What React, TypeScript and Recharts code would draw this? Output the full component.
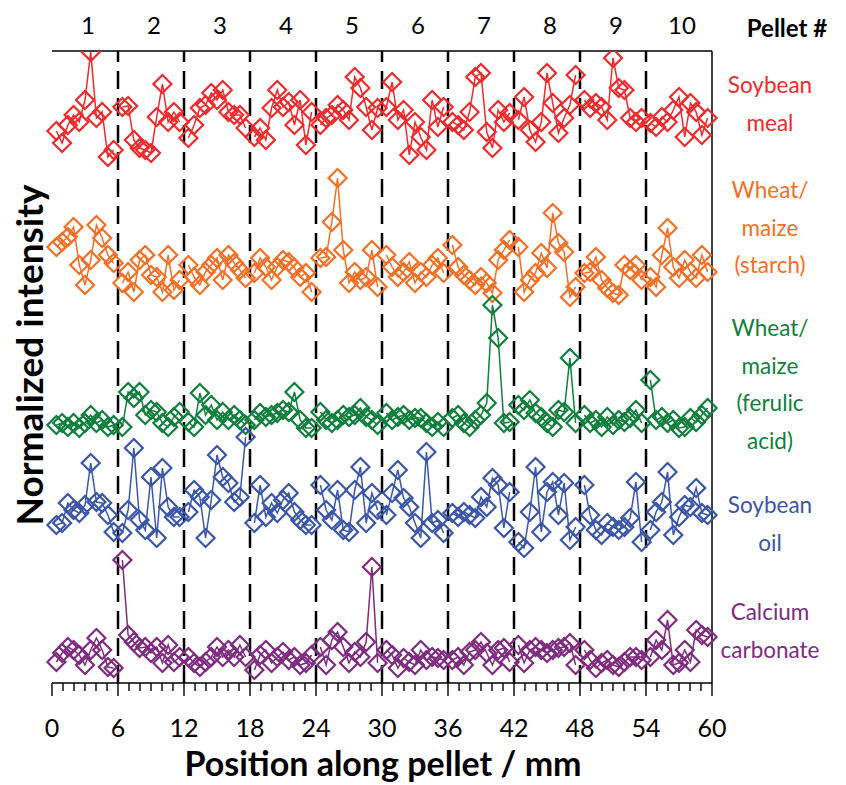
import React from "react";
import {
  LineChart,
  Line,
  XAxis,
  YAxis,
  ReferenceLine,
} from "recharts";

// Position of the pellets along the strand (mm) and where the spots sit inside each pellet
const pelletStarts = [0, 6, 12, 18, 24, 30, 36, 42, 48, 54];
const spotOffsets = [0.4, 0.92, 1.44, 1.96, 2.48, 3.0, 3.52, 4.04, 4.56, 5.08, 5.6];
const pelletCenters = [3, 9, 15, 21, 27, 33, 39, 45, 51, 57];
const pelletLabels = ["1", "2", "3", "4", "5", "6", "7", "8", "9", "10"];
const axisTicks = Array.from({ length: 61 }, (_, i) => i);

// Stacked (offset) normalized intensities, one row per pellet
const soybeanMeal = [
  [552, 540, 558, 568, 561, 583, 631, 565, 571, 526, 533],
  [576, 577, 543, 535, 533, 530, 566, 599, 561, 571, 561],
  [545, 558, 575, 578, 590, 583, 593, 571, 568, 568, 555],
  [546, 555, 543, 575, 593, 576, 581, 558, 583, 538, 571],
  [558, 565, 568, 578, 573, 563, 606, 595, 576, 553, 575],
  [576, 601, 563, 573, 528, 561, 546, 533, 583, 556, 576],
  [561, 558, 553, 571, 606, 610, 551, 535, 573, 561, 570],
  [563, 586, 553, 541, 561, 610, 580, 550, 565, 578, 608],
  [583, 575, 580, 576, 563, 625, 595, 593, 565, 561, 565],
  [560, 556, 566, 561, 573, 586, 546, 580, 571, 548, 565],
];
const starch = [
  [436, 441, 446, 456, 418, 398, 423, 458, 445, 428, 420],
  [400, 411, 391, 423, 428, 408, 406, 391, 428, 393, 403],
  [418, 406, 398, 411, 418, 425, 403, 428, 420, 413, 405],
  [410, 425, 416, 403, 416, 423, 421, 415, 406, 410, 391],
  [425, 426, 461, 505, 433, 400, 411, 403, 406, 433, 396],
  [428, 416, 406, 411, 421, 400, 411, 406, 418, 425, 410],
  [438, 416, 408, 403, 398, 406, 400, 390, 423, 433, 443],
  [436, 391, 403, 410, 430, 415, 470, 440, 431, 386, 396],
  [410, 411, 426, 403, 395, 390, 388, 418, 413, 418, 403],
  [406, 396, 428, 455, 416, 405, 423, 411, 405, 428, 411],
];
const ferulicAcid = [
  [258, 260, 256, 260, 255, 260, 268, 260, 263, 256, 258],
  [256, 291, 285, 291, 268, 273, 271, 260, 256, 266, 271],
  [261, 256, 290, 268, 278, 263, 271, 263, 268, 263, 258],
  [263, 270, 266, 268, 270, 273, 271, 291, 263, 255, 255],
  [271, 263, 260, 263, 268, 266, 268, 275, 266, 263, 258],
  [270, 263, 266, 268, 263, 265, 265, 260, 256, 261, 256],
  [265, 268, 260, 256, 263, 268, 280, 378, 345, 260, 261],
  [278, 273, 283, 270, 266, 260, 256, 273, 271, 325, 260],
  [268, 260, 263, 256, 266, 258, 263, 261, 265, 273, 260],
  [303, 263, 266, 260, 263, 255, 256, 265, 261, 268, 275],
];
const soybeanOil = [
  [158, 160, 180, 173, 170, 178, 220, 181, 180, 168, 151],
  [150, 173, 235, 163, 153, 206, 145, 215, 176, 166, 166],
  [171, 193, 186, 145, 183, 228, 206, 200, 181, 186, 246],
  [160, 198, 166, 180, 170, 183, 190, 171, 163, 158, 158],
  [198, 173, 163, 193, 153, 151, 193, 216, 160, 190, 173],
  [168, 190, 213, 185, 176, 160, 145, 231, 160, 163, 150],
  [170, 166, 171, 168, 165, 186, 176, 205, 198, 155, 191],
  [141, 135, 171, 216, 151, 191, 201, 168, 200, 143, 156],
  [198, 168, 153, 148, 160, 156, 153, 156, 165, 201, 141],
  [153, 171, 181, 211, 148, 166, 178, 176, 195, 170, 168],
];
const calciumCarbonate = [
  [21, 30, 36, 33, 28, 18, 33, 45, 33, 16, 15],
  [123, 48, 41, 35, 36, 30, 36, 20, 38, 21, 26],
  [26, 20, 16, 21, 26, 36, 26, 33, 26, 38, 26],
  [13, 28, 33, 20, 26, 31, 23, 26, 18, 20, 28],
  [36, 18, 43, 51, 36, 20, 31, 26, 41, 116, 20],
  [33, 28, 15, 25, 21, 18, 33, 23, 26, 25, 23],
  [23, 26, 18, 31, 33, 41, 30, 18, 33, 35, 21],
  [38, 20, 33, 36, 33, 30, 33, 35, 36, 40, 18],
  [33, 23, 15, 20, 23, 18, 16, 21, 26, 26, 23],
  [26, 43, 33, 63, 18, 20, 33, 21, 53, 48, 46],
];

const series = [
  { key: "meal", values: soybeanMeal, color: "#ED2A2C", label: ["Soybean", "meal"], top: 66 },
  { key: "starch", values: starch, color: "#F36F25", label: ["Wheat/", "maize", "(starch)"], top: 171 },
  { key: "ferulic", values: ferulicAcid, color: "#0F7F3C", label: ["Wheat/", "maize", "(ferulic", "acid)"], top: 309 },
  { key: "oil", values: soybeanOil, color: "#3A56A8", label: ["Soybean", "oil"], top: 486 },
  { key: "caco3", values: calciumCarbonate, color: "#7E2B80", label: ["Calcium", "carbonate"], top: 593 },
];

// one row per spot, with an empty row after each pellet so the lines break
const rows: any[] = [];
pelletStarts.forEach((start, p) => {
  spotOffsets.forEach((off, k) => {
    const row: any = { x: start + off };
    series.forEach((s) => (row[s.key] = s.values[p][k]));
    rows.push(row);
  });
  const gap: any = { x: start + 5.95 };
  series.forEach((s) => (gap[s.key] = null));
  rows.push(gap);
});

const FONT = "Lato, 'Open Sans', sans-serif";

const diamond = (color: string) => (props: any) => {
  const { cx, cy, index } = props;
  if (cx == null || cy == null || props.value == null) return <g key={index} />;
  const r = 9;
  return (
    <path
      key={index}
      d={`M${cx},${cy - r}L${cx + r},${cy}L${cx},${cy + r}L${cx - r},${cy}Z`}
      fill="none"
      stroke={color}
      strokeWidth={2.2}
    />
  );
};

const BottomTick = (props: any) => {
  const { x, y, payload } = props;
  const major = payload.value % 6 === 0;
  return (
    <g>
      <line x1={x} x2={x} y1={y} y2={y + (major ? 13 : 8)} stroke="#000000" strokeWidth={1.4} />
      {major && (
        <text x={x} y={y + 44} textAnchor="middle" dominantBaseline="central" fontSize={25} fontFamily={FONT} fill="#000">
          {payload.value}
        </text>
      )}
    </g>
  );
};

const TopTick = (props: any) => {
  const { x, y, payload } = props;
  const i = pelletCenters.indexOf(payload.value);
  return (
    <text x={x + 3} y={y - 27} textAnchor="middle" dominantBaseline="central" fontSize={24} fontFamily={FONT} fill="#000">
      {pelletLabels[i]}
    </text>
  );
};

export default function App() {
  return (
    <div style={{ position: "absolute", left: 0, top: 0, width: 846, height: 785, background: "#fff", fontFamily: FONT }}>
      <LineChart
        width={846}
        height={785}
        data={rows}
        margin={{ top: 21, right: 134, left: 52, bottom: 42 }}
      >
        <XAxis
          dataKey="x"
          type="number"
          domain={[0, 60]}
          ticks={axisTicks}
          interval={0}
          height={60}
          tickSize={0}
          tickMargin={0}
          tickLine={false}
          tick={<BottomTick />}
          axisLine={{ stroke: "#000", strokeWidth: 1.5 }}
        />
        <XAxis
          xAxisId="top"
          orientation="top"
          dataKey="x"
          type="number"
          domain={[0, 60]}
          ticks={pelletCenters}
          interval={0}
          height={30}
          tickSize={0}
          tickMargin={0}
          tickLine={false}
          axisLine={false}
          tick={<TopTick />}
        />
        <YAxis
          type="number"
          domain={[0, 632]}
          allowDataOverflow
          width={0}
          tick={false}
          tickLine={false}
          axisLine={{ stroke: "#000", strokeWidth: 1.5 }}
        />
        <ReferenceLine y={632} stroke="#000" strokeWidth={1.5} />
        <ReferenceLine x={60} stroke="#000" strokeWidth={1.5} />
        {pelletStarts.slice(1).map((v) => (
          <ReferenceLine key={v} x={v} stroke="#000" strokeWidth={2.5} strokeDasharray="18 9" />
        ))}
        {series.map((s) => (
          <Line
            key={s.key}
            dataKey={s.key}
            stroke={s.color}
            strokeWidth={1.5}
            dot={diamond(s.color)}
            activeDot={false}
            isAnimationActive={false}
          />
        ))}
      </LineChart>

      {series.map((s) => (
        <div
          key={s.key}
          style={{
            position: "absolute",
            left: 700,
            width: 140,
            top: s.top,
            textAlign: "center",
            color: s.color,
            fontSize: 22.5,
            lineHeight: "37.5px",
          }}
        >
          {s.label.map((t, i) => (
            <div key={i}>{t}</div>
          ))}
        </div>
      ))}
      <div style={{ position: "absolute", left: 730, width: 114, top: 14, textAlign: "center", fontWeight: 700, fontSize: 24, lineHeight: "28px" }}>
        Pellet #
      </div>
      <div
        style={{
          position: "absolute",
          left: 29,
          top: 355,
          transform: "translate(-50%, -50%) rotate(-90deg)",
          whiteSpace: "nowrap",
          fontWeight: 700,
          fontSize: 37,
          lineHeight: "40px",
        }}
      >
        Normalized intensity
      </div>
      <div style={{ position: "absolute", left: 0, width: 766, top: 746, textAlign: "center", fontWeight: 700, fontSize: 34, lineHeight: "34px", whiteSpace: "nowrap" }}>
        Position along pellet / mm
      </div>
    </div>
  );
}
